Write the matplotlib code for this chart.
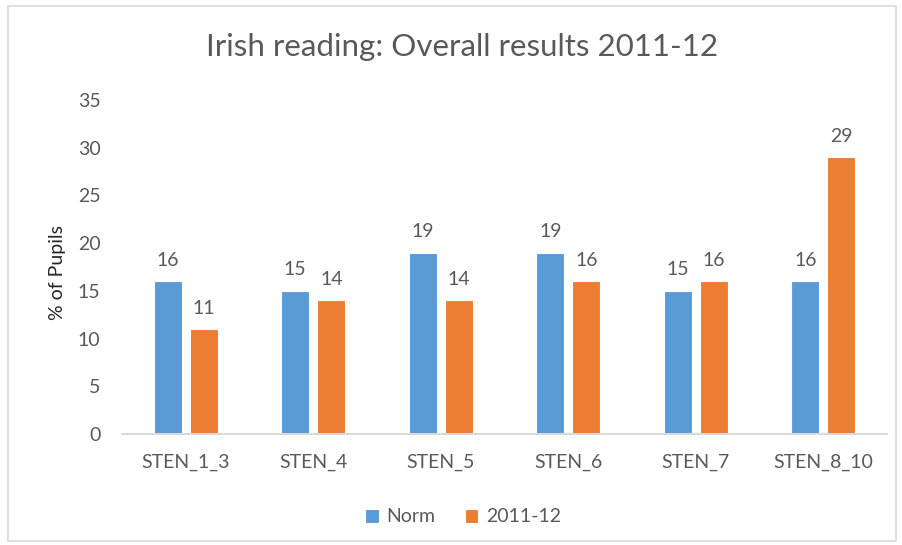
import matplotlib
matplotlib.use("Agg")
import matplotlib.pyplot as plt
import numpy as np
from matplotlib.patches import Rectangle

categories = ["STEN_1_3", "STEN_4", "STEN_5", "STEN_6", "STEN_7", "STEN_8_10"]
norm = [16, 15, 19, 19, 15, 16]
y2011 = [11, 14, 14, 16, 16, 29]
series_names = ["Norm", "2011-12"]
yticks = [0, 5, 10, 15, 20, 25, 30, 35]

TXT = "#595959"
BLUE = "#5B9BD5"
ORANGE = "#ED7D31"
FS = 14
plt.rcParams["font.family"] = ["Lato", "DejaVu Sans"]

fig = plt.figure(figsize=(9.02, 5.45), dpi=100)
fig.patches.append(Rectangle((8/902, 1-541/545), 888/902, 535/545, transform=fig.transFigure,
                             fill=False, edgecolor="#D9D9D9", linewidth=1.2))
ax = fig.add_axes([122/902, 1-434/545, (887-122)/902, 334/545])

x = np.arange(len(categories))
w = 0.22
off = 0.141
b1 = ax.bar(x - off, norm, w, color=BLUE, edgecolor="white", linewidth=0.8, label=series_names[0])
b2 = ax.bar(x + off, y2011, w, color=ORANGE, edgecolor="white", linewidth=0.8, label=series_names[1])
for bars, vals in ((b1, norm), (b2, y2011)):
    for r, v in zip(bars, vals):
        ax.annotate(str(v), (r.get_x() + r.get_width()/2, v), xytext=(0, 9),
                    textcoords="offset points", ha="center", va="bottom",
                    fontsize=FS, color=TXT)

ax.set_xlim(-0.5, len(categories) - 0.5)
ax.set_ylim(0, 35)
ax.set_yticks(yticks)
ax.set_xticks(x)
ax.set_xticklabels(categories)
ax.tick_params(axis="both", length=0, labelsize=FS, labelcolor=TXT)
ax.tick_params(axis="x", pad=14)
ax.tick_params(axis="y", pad=15.5)
for s in ["top", "right", "left"]:
    ax.spines[s].set_visible(False)
ax.spines["bottom"].set_color("#D9D9D9")
ax.spines["bottom"].set_linewidth(1.5)
ax.set_ylabel("% of Pupils", fontsize=FS, color="#262626")
ax.yaxis.set_label_coords(66/902, 1-272/545, transform=fig.transFigure)

fig.text(462/902, 1-47/545, "Irish reading: Overall results 2011-12", ha="center", va="center",
         fontsize=22.5, color=TXT)
fig.legend(handles=[b1, b2], labels=series_names, loc="center", bbox_to_anchor=(463/902, 1-517/545),
           ncol=2, frameon=False, fontsize=FS, labelcolor=TXT, handlelength=0.7, handleheight=0.7,
           columnspacing=1.5, handletextpad=0.4)

fig.savefig("out.png", dpi=100)
